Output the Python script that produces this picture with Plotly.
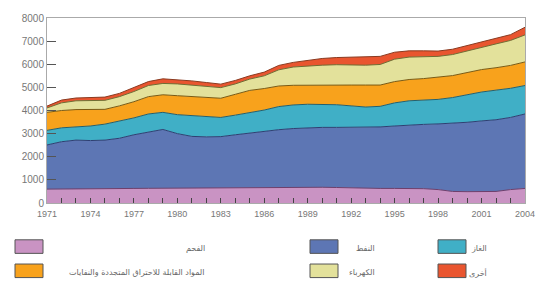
import plotly.graph_objects as go

years = list(range(1971, 2005))

coal = [600, 610, 620, 620, 620, 630, 630, 635, 640, 640, 640, 650, 660, 670, 675, 680, 685,
        690, 690, 680, 670, 650, 640, 630, 630, 630, 620, 580, 500, 490, 490, 500, 580, 630]
oil = [1910, 2040, 2100, 2080, 2100, 2170, 2320, 2445, 2540, 2360, 2240, 2210, 2210, 2280, 2355,
       2420, 2485, 2530, 2560, 2590, 2600, 2620, 2640, 2660, 2700, 2750, 2780, 2840, 2950, 3000,
       3060, 3100, 3120, 3220]
gas = [630, 600, 570, 630, 690, 730, 730, 770, 740, 820, 900, 870, 830, 850, 870, 920, 1000,
       1020, 1020, 990, 980, 930, 870, 890, 1000, 1040, 1050, 1060, 1110, 1190, 1250, 1280, 1260, 1230]
crw = [780, 750, 750, 710, 640, 670, 700, 750, 760, 820, 820, 810, 830, 900, 970, 930, 890,
       850, 830, 840, 840, 900, 950, 920, 920, 920, 930, 950, 950, 960, 970, 970, 990, 1020]
elec = [190, 330, 380, 390, 390, 400, 440, 480, 490, 510, 500, 490, 460, 450, 490, 550, 700,
        790, 830, 860, 890, 870, 860, 890, 970, 970, 950, 910, 910, 940, 980, 1030, 1080, 1170]
other = [80, 120, 120, 130, 140, 140, 160, 170, 200, 190, 180, 180, 150, 150, 140, 160, 190,
         200, 250, 290, 310, 340, 360, 350, 300, 270, 250, 230, 230, 220, 210, 220, 250, 330]

series_names = ["الفحم", "النفط", "الغاز",
                "المواد القابلة للاحتراق المتجددة والنفايات", "الكهرباء", "أخرى"]
series_values = [coal, oil, gas, crw, elec, other]
fill_colors = ["#c993c3", "#5d76b4", "#40afc6", "#f8a21c", "#e3e19b", "#e9552f"]
line_colors = ["#6e3f6c", "#2e3f72", "#22606f", "#7a5a12", "#6f6d32", "#8a3a20"]

x_ticks = list(range(1971, 2005, 3))
y_ticks = list(range(0, 8001, 1000))

fig = go.Figure()
for name, vals, fc, lc in zip(series_names, series_values, fill_colors, line_colors):
    fig.add_trace(go.Scatter(
        x=years, y=vals, name=name, mode="lines", stackgroup="one",
        fillcolor=fc, line=dict(color=lc, width=1), showlegend=False,
        hoverinfo="skip"))

# body margin is removed in the page, so figure pixels == page pixels
W, H = 550, 284
PL, PR, PT, PB = 47, 525, 12, 203          # plot box in page pixels
ML, MT = PL, PT
MR = W - PR
MB = H - PB
PW, PH = PR - PL, PB - PT


def px(x):
    return (x - PL) / PW


def py(y):
    return (PB - y) / PH


# legend drawn manually (RTL layout)
swatch_cols = [15, 310, 438]
label_right = [207, 377, 489]
row_tops = [241, 266]
legend_pos = {0: (0, 0), 1: (0, 1), 2: (0, 2), 3: (1, 0), 4: (1, 1), 5: (1, 2)}
shapes = []
annotations = []
for i, name in enumerate(series_names):
    r, c = legend_pos[i]
    x0 = swatch_cols[c]
    y0 = row_tops[r]
    shapes.append(dict(type="rect", xref="paper", yref="paper",
                       x0=px(x0), x1=px(x0 + 28), y0=py(y0 + 14), y1=py(y0),
                       fillcolor=fill_colors[i], line=dict(color="#555555", width=1)))
    annotations.append(dict(xref="paper", yref="paper", x=px(label_right[c]),
                            y=py(y0 + 9), xanchor="right", yanchor="middle",
                            text=name, showarrow=False,
                            font=dict(family="DejaVu Sans", size=8, color="#666666")))

fig.update_layout(
    width=W, height=H,
    margin=dict(l=ML, r=MR, t=MT, b=MB),
    paper_bgcolor="white", plot_bgcolor="white",
    shapes=shapes, annotations=annotations,
    xaxis=dict(range=[1971, 2004], tickmode="array", tickvals=x_ticks,
               ticktext=[str(v) for v in x_ticks],
               ticks="inside", ticklen=5, tickcolor="#444444",
               minor=dict(dtick=1, tick0=1971, ticks="inside", ticklen=5, tickcolor="#444444"),
               showgrid=False, zeroline=False, showline=True, linecolor="#aaaaaa",
               mirror=True, ticklabelstandoff=2,
               tickfont=dict(family="Liberation Sans", size=9, color="#777777")),
    yaxis=dict(range=[0, 8000], tickmode="array", tickvals=y_ticks,
               ticktext=[str(v) for v in y_ticks],
               ticks="inside", ticklen=9, tickcolor="#555555",
               showgrid=False, zeroline=False, showline=True, linecolor="#aaaaaa",
               mirror=True,
               tickfont=dict(family="Liberation Sans", size=10, color="#777777")),
)

fig.write_html(
    "out.html",
    config={"displayModeBar": False, "staticPlot": True},
    post_script="document.body.style.margin='0';document.body.style.overflow='hidden';",
)
